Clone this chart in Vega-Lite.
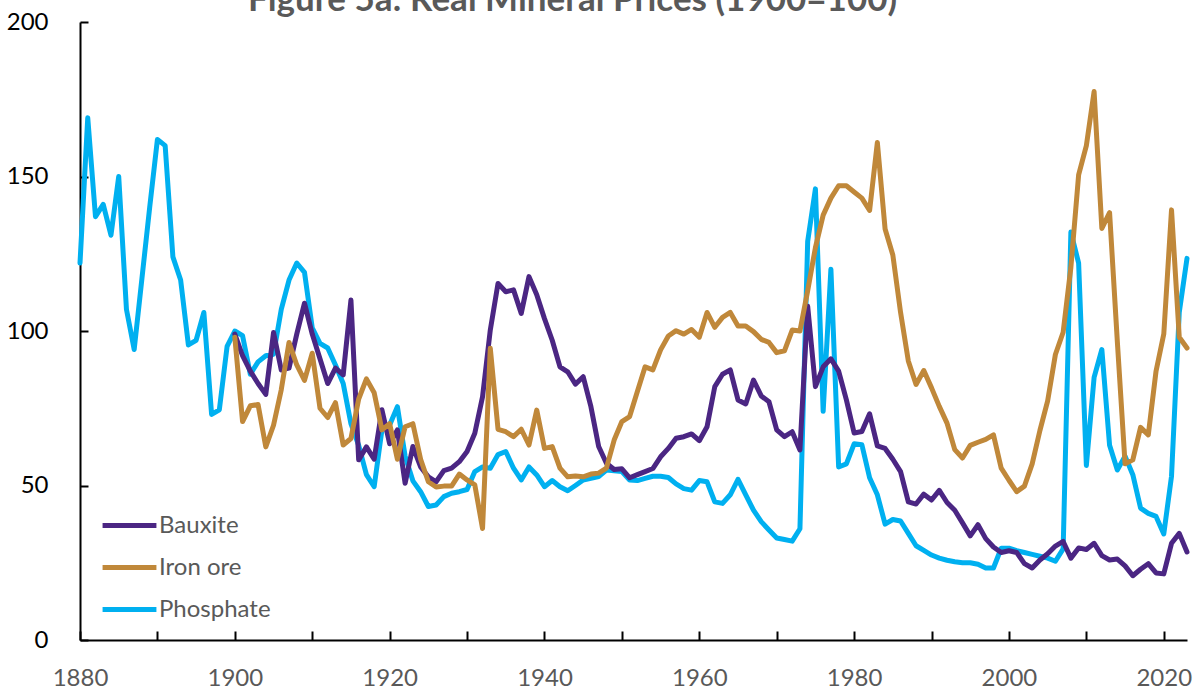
{
  "$schema": "https://vega.github.io/schema/vega-lite/v6.json",
  "width": 1107,
  "height": 618,
  "autosize": {"type": "none"},
  "padding": {"left": 80, "top": 22, "right": 9, "bottom": 49},
  "background": "white",
  "title": {
    "text": "Figure 5a: Real Mineral Prices (1900=100)",
    "font": "Lato",
    "fontSize": 35,
    "fontWeight": "bold",
    "color": "#595959",
    "anchor": "middle",
    "dx": -61,
    "dy": 36,
    "baseline": "alphabetic",
    "offset": 0
  },
  "config": {
    "view": {"stroke": null},
    "font": "Lato"
  },
  "data": {
    "values": [
      {"year": 1880, "Phosphate": 122},
      {"year": 1881, "Phosphate": 169},
      {"year": 1882, "Phosphate": 137},
      {"year": 1883, "Phosphate": 141},
      {"year": 1884, "Phosphate": 131},
      {"year": 1885, "Phosphate": 150},
      {"year": 1886, "Phosphate": 107},
      {"year": 1887, "Phosphate": 94},
      {"year": 1888, "Phosphate": 117},
      {"year": 1889, "Phosphate": 140},
      {"year": 1890, "Phosphate": 162},
      {"year": 1891, "Phosphate": 160},
      {"year": 1892, "Phosphate": 124},
      {"year": 1893, "Phosphate": 116.5},
      {"year": 1894, "Phosphate": 95.5},
      {"year": 1895, "Phosphate": 97},
      {"year": 1896, "Phosphate": 106},
      {"year": 1897, "Phosphate": 73},
      {"year": 1898, "Phosphate": 74.5},
      {"year": 1899, "Phosphate": 95},
      {"year": 1900, "Bauxite": 99, "Iron ore": 98, "Phosphate": 100},
      {"year": 1901, "Bauxite": 92, "Iron ore": 70.7, "Phosphate": 98.5},
      {"year": 1902, "Bauxite": 87, "Iron ore": 75.8, "Phosphate": 86},
      {"year": 1903, "Bauxite": 83, "Iron ore": 76.2, "Phosphate": 90},
      {"year": 1904, "Bauxite": 79.5, "Iron ore": 62.5, "Phosphate": 92},
      {"year": 1905, "Bauxite": 99.5, "Iron ore": 69.5, "Phosphate": 92.5},
      {"year": 1906, "Bauxite": 87.4, "Iron ore": 81, "Phosphate": 107},
      {"year": 1907, "Bauxite": 88, "Iron ore": 96.3, "Phosphate": 116.5},
      {"year": 1908, "Bauxite": 99, "Iron ore": 89, "Phosphate": 122},
      {"year": 1909, "Bauxite": 109, "Iron ore": 84, "Phosphate": 119},
      {"year": 1910, "Bauxite": 99, "Iron ore": 92.8, "Phosphate": 101},
      {"year": 1911, "Bauxite": 91, "Iron ore": 75, "Phosphate": 96},
      {"year": 1912, "Bauxite": 83, "Iron ore": 72, "Phosphate": 94.5},
      {"year": 1913, "Bauxite": 88, "Iron ore": 76.8, "Phosphate": 89},
      {"year": 1914, "Bauxite": 85.8, "Iron ore": 63.1, "Phosphate": 83},
      {"year": 1915, "Bauxite": 110, "Iron ore": 65.2, "Phosphate": 70},
      {"year": 1916, "Bauxite": 58.3, "Iron ore": 78, "Phosphate": 63},
      {"year": 1917, "Bauxite": 62.5, "Iron ore": 84.5, "Phosphate": 53.5},
      {"year": 1918, "Bauxite": 58.5, "Iron ore": 80, "Phosphate": 49.6},
      {"year": 1919, "Bauxite": 74.5, "Iron ore": 68, "Phosphate": 68},
      {"year": 1920, "Bauxite": 63.5, "Iron ore": 70, "Phosphate": 69.6},
      {"year": 1921, "Bauxite": 68, "Iron ore": 58.5, "Phosphate": 75.5},
      {"year": 1922, "Bauxite": 50.7, "Iron ore": 69, "Phosphate": 59.5},
      {"year": 1923, "Bauxite": 62.6, "Iron ore": 70, "Phosphate": 51.5},
      {"year": 1924, "Bauxite": 56, "Iron ore": 58.5, "Phosphate": 48},
      {"year": 1925, "Bauxite": 52.8, "Iron ore": 51.2, "Phosphate": 43.2},
      {"year": 1926, "Bauxite": 51.2, "Iron ore": 49.5, "Phosphate": 43.7},
      {"year": 1927, "Bauxite": 54.8, "Iron ore": 49.8, "Phosphate": 46.4},
      {"year": 1928, "Bauxite": 55.6, "Iron ore": 49.8, "Phosphate": 47.5},
      {"year": 1929, "Bauxite": 57.7, "Iron ore": 53.7, "Phosphate": 48},
      {"year": 1930, "Bauxite": 61, "Iron ore": 51.8, "Phosphate": 48.7},
      {"year": 1931, "Bauxite": 66.9, "Iron ore": 50.2, "Phosphate": 54.5},
      {"year": 1932, "Bauxite": 78.7, "Iron ore": 36.1, "Phosphate": 56},
      {"year": 1933, "Bauxite": 100.3, "Iron ore": 94.4, "Phosphate": 55.6},
      {"year": 1934, "Bauxite": 115.4, "Iron ore": 68.2, "Phosphate": 60},
      {"year": 1935, "Bauxite": 112.7, "Iron ore": 67.4, "Phosphate": 61},
      {"year": 1936, "Bauxite": 113.3, "Iron ore": 65.8, "Phosphate": 55.6},
      {"year": 1937, "Bauxite": 105.7, "Iron ore": 68.2, "Phosphate": 51.8},
      {"year": 1938, "Bauxite": 117.6, "Iron ore": 63.1, "Phosphate": 56},
      {"year": 1939, "Bauxite": 111.7, "Iron ore": 74.4, "Phosphate": 53.4},
      {"year": 1940, "Bauxite": 104, "Iron ore": 62, "Phosphate": 49.6},
      {"year": 1941, "Bauxite": 97, "Iron ore": 62.6, "Phosphate": 51.6},
      {"year": 1942, "Bauxite": 88.4, "Iron ore": 55.6, "Phosphate": 49.6},
      {"year": 1943, "Bauxite": 86.8, "Iron ore": 52.8, "Phosphate": 48.3},
      {"year": 1944, "Bauxite": 82.8, "Iron ore": 53.1, "Phosphate": 50},
      {"year": 1945, "Bauxite": 85.2, "Iron ore": 52.8, "Phosphate": 51.8},
      {"year": 1946, "Bauxite": 75.5, "Iron ore": 53.7, "Phosphate": 52.3},
      {"year": 1947, "Bauxite": 62.6, "Iron ore": 54, "Phosphate": 52.9},
      {"year": 1948, "Bauxite": 57.2, "Iron ore": 55.6, "Phosphate": 55},
      {"year": 1949, "Bauxite": 55.2, "Iron ore": 64.7, "Phosphate": 54.8},
      {"year": 1950, "Bauxite": 55.4, "Iron ore": 70.7, "Phosphate": 54.5},
      {"year": 1951, "Bauxite": 52.5, "Iron ore": 72.3, "Phosphate": 51.8},
      {"year": 1952, "Bauxite": 53.5, "Iron ore": 80.4, "Phosphate": 51.6},
      {"year": 1953, "Bauxite": 54.5, "Iron ore": 88.4, "Phosphate": 52.3},
      {"year": 1954, "Bauxite": 55.5, "Iron ore": 87.4, "Phosphate": 53},
      {"year": 1955, "Bauxite": 59.3, "Iron ore": 93.9, "Phosphate": 53},
      {"year": 1956, "Bauxite": 62, "Iron ore": 98.4, "Phosphate": 52.6},
      {"year": 1957, "Bauxite": 65.3, "Iron ore": 100.1, "Phosphate": 50.5},
      {"year": 1958, "Bauxite": 65.8, "Iron ore": 99, "Phosphate": 49},
      {"year": 1959, "Bauxite": 66.7, "Iron ore": 100.5, "Phosphate": 48.5},
      {"year": 1960, "Bauxite": 64.5, "Iron ore": 98, "Phosphate": 51.6},
      {"year": 1961, "Bauxite": 69, "Iron ore": 106, "Phosphate": 51.2},
      {"year": 1962, "Bauxite": 82, "Iron ore": 101.2, "Phosphate": 44.7},
      {"year": 1963, "Bauxite": 86, "Iron ore": 104.4, "Phosphate": 44.2},
      {"year": 1964, "Bauxite": 87.4, "Iron ore": 106, "Phosphate": 47},
      {"year": 1965, "Bauxite": 77.7, "Iron ore": 101.6, "Phosphate": 52},
      {"year": 1966, "Bauxite": 76.4, "Iron ore": 101.6, "Phosphate": 47},
      {"year": 1967, "Bauxite": 84.1, "Iron ore": 99.8, "Phosphate": 42},
      {"year": 1968, "Bauxite": 79, "Iron ore": 97.3, "Phosphate": 38.3},
      {"year": 1969, "Bauxite": 77.1, "Iron ore": 96.3, "Phosphate": 35.6},
      {"year": 1970, "Bauxite": 68, "Iron ore": 93, "Phosphate": 33},
      {"year": 1971, "Bauxite": 65.8, "Iron ore": 93.6, "Phosphate": 32.5},
      {"year": 1972, "Bauxite": 67.4, "Iron ore": 100.3, "Phosphate": 32},
      {"year": 1973, "Bauxite": 61.5, "Iron ore": 100, "Phosphate": 36},
      {"year": 1974, "Bauxite": 108, "Iron ore": 113, "Phosphate": 129},
      {"year": 1975, "Bauxite": 82, "Iron ore": 127, "Phosphate": 146},
      {"year": 1976, "Bauxite": 88.4, "Iron ore": 137.5, "Phosphate": 74},
      {"year": 1977, "Bauxite": 91, "Iron ore": 143, "Phosphate": 120},
      {"year": 1978, "Bauxite": 87, "Iron ore": 147, "Phosphate": 56},
      {"year": 1979, "Bauxite": 77.7, "Iron ore": 147, "Phosphate": 57},
      {"year": 1980, "Bauxite": 67, "Iron ore": 145, "Phosphate": 63.5},
      {"year": 1981, "Bauxite": 67.5, "Iron ore": 143, "Phosphate": 63.2},
      {"year": 1982, "Bauxite": 73.2, "Iron ore": 139, "Phosphate": 52.5},
      {"year": 1983, "Bauxite": 62.8, "Iron ore": 161, "Phosphate": 47},
      {"year": 1984, "Bauxite": 62, "Iron ore": 133, "Phosphate": 37.5},
      {"year": 1985, "Bauxite": 58.5, "Iron ore": 124.6, "Phosphate": 39},
      {"year": 1986, "Bauxite": 54.5, "Iron ore": 106, "Phosphate": 38.5},
      {"year": 1987, "Bauxite": 44.7, "Iron ore": 90.3, "Phosphate": 34.5},
      {"year": 1988, "Bauxite": 44, "Iron ore": 82.7, "Phosphate": 30.5},
      {"year": 1989, "Bauxite": 47.2, "Iron ore": 87.2, "Phosphate": 29},
      {"year": 1990, "Bauxite": 45.3, "Iron ore": 81.6, "Phosphate": 27.5},
      {"year": 1991, "Bauxite": 48.4, "Iron ore": 75.6, "Phosphate": 26.5},
      {"year": 1992, "Bauxite": 44.5, "Iron ore": 70.2, "Phosphate": 25.8},
      {"year": 1993, "Bauxite": 42, "Iron ore": 61.6, "Phosphate": 25.3},
      {"year": 1994, "Bauxite": 37.9, "Iron ore": 58.9, "Phosphate": 25},
      {"year": 1995, "Bauxite": 33.7, "Iron ore": 63, "Phosphate": 25},
      {"year": 1996, "Bauxite": 37.3, "Iron ore": 64, "Phosphate": 24.5},
      {"year": 1997, "Bauxite": 32.8, "Iron ore": 64.9, "Phosphate": 23.3},
      {"year": 1998, "Bauxite": 30.1, "Iron ore": 66.4, "Phosphate": 23.3},
      {"year": 1999, "Bauxite": 28.3, "Iron ore": 55.6, "Phosphate": 29.7},
      {"year": 2000, "Bauxite": 28.9, "Iron ore": 51.7, "Phosphate": 29.7},
      {"year": 2001, "Bauxite": 28.3, "Iron ore": 48, "Phosphate": 28.9},
      {"year": 2002, "Bauxite": 24.7, "Iron ore": 49.8, "Phosphate": 28.3},
      {"year": 2003, "Bauxite": 23.3, "Iron ore": 57, "Phosphate": 27.7},
      {"year": 2004, "Bauxite": 25.9, "Iron ore": 67.8, "Phosphate": 27.1},
      {"year": 2005, "Bauxite": 27.9, "Iron ore": 77.4, "Phosphate": 26.5},
      {"year": 2006, "Bauxite": 30.4, "Iron ore": 92.4, "Phosphate": 25.5},
      {"year": 2007, "Bauxite": 31.9, "Iron ore": 99.6, "Phosphate": 29.5},
      {"year": 2008, "Bauxite": 26.5, "Iron ore": 120.6, "Phosphate": 132},
      {"year": 2009, "Bauxite": 29.8, "Iron ore": 150.5, "Phosphate": 122},
      {"year": 2010, "Bauxite": 29.3, "Iron ore": 160, "Phosphate": 56.5},
      {"year": 2011, "Bauxite": 31.3, "Iron ore": 177.5, "Phosphate": 85},
      {"year": 2012, "Bauxite": 27.3, "Iron ore": 133.2, "Phosphate": 94},
      {"year": 2013, "Bauxite": 25.9, "Iron ore": 138.3, "Phosphate": 63},
      {"year": 2014, "Bauxite": 26.2, "Iron ore": 96.6, "Phosphate": 55},
      {"year": 2015, "Bauxite": 24, "Iron ore": 57, "Phosphate": 59.5},
      {"year": 2016, "Bauxite": 20.8, "Iron ore": 58.3, "Phosphate": 53.5},
      {"year": 2017, "Bauxite": 22.9, "Iron ore": 68.8, "Phosphate": 42.7},
      {"year": 2018, "Bauxite": 24.7, "Iron ore": 66.4, "Phosphate": 41},
      {"year": 2019, "Bauxite": 21.7, "Iron ore": 87, "Phosphate": 40},
      {"year": 2020, "Bauxite": 21.4, "Iron ore": 99, "Phosphate": 34.3},
      {"year": 2021, "Bauxite": 31.3, "Iron ore": 139.2, "Phosphate": 53},
      {"year": 2022, "Bauxite": 34.5, "Iron ore": 98, "Phosphate": 106},
      {"year": 2023, "Bauxite": 28.5, "Iron ore": 94.5, "Phosphate": 123.5}
    ]
  },
  "transform": [
    {"fold": ["Bauxite", "Iron ore", "Phosphate"], "as": ["series", "value"]},
    {"filter": "isValid(datum.value)"}
  ],
  "mark": {"type": "line", "strokeWidth": 5, "strokeJoin": "round", "strokeCap": "round", "clip": false},
  "encoding": {
    "x": {
      "field": "year",
      "type": "quantitative",
      "scale": {"domain": [1880, 2023], "nice": false, "zero": false},
      "axis": {
        "title": null,
        "values": [1880, 1890, 1900, 1910, 1920, 1930, 1940, 1950, 1960, 1970, 1980, 1990, 2000, 2010, 2020],
        "format": "d",
        "labelExpr": "datum.value % 20 == 0 ? datum.label : ''",
        "grid": false,
        "domainColor": "#000000",
        "domainWidth": 2,
        "tickColor": "#000000",
        "tickWidth": 2,
        "tickSize": -9,
        "labelFont": "Lato",
        "labelFontSize": 24,
        "labelColor": "#595959",
        "labelBaseline": "top",
        "labelPadding": 35,
        "labelFlush": false
      }
    },
    "y": {
      "field": "value",
      "type": "quantitative",
      "scale": {"domain": [0, 200], "nice": false},
      "axis": {
        "title": null,
        "values": [0, 50, 100, 150, 200],
        "grid": false,
        "domainColor": "#000000",
        "domainWidth": 2,
        "tickColor": "#000000",
        "tickWidth": 2,
        "tickSize": -8,
        "labelFont": "Lato",
        "labelFontSize": 24,
        "labelColor": "#000000",
        "labelPadding": 40
      }
    },
    "color": {
      "field": "series",
      "type": "nominal",
      "scale": {"domain": ["Bauxite", "Iron ore", "Phosphate"], "range": ["#4B2683", "#C0883A", "#00B0F0"]},
      "legend": {
        "title": null,
        "orient": "none",
        "legendX": 20,
        "legendY": 474,
        "symbolType": "stroke",
        "symbolStrokeWidth": 5,
        "symbolSize": 2900,
        "labelFont": "Lato",
        "labelFontSize": 24,
        "labelColor": "#595959",
        "labelOffset": 0,
        "rowPadding": 0
      }
    }
  }
}
